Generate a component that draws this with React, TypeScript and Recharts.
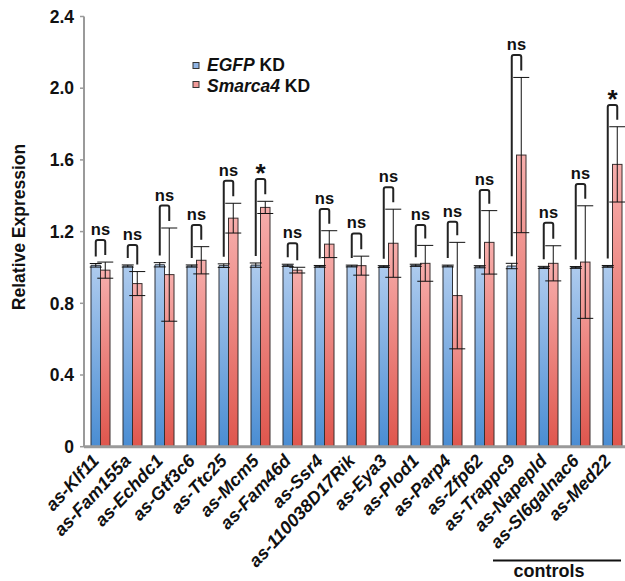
import { BarChart, Bar, XAxis, YAxis, ErrorBar, Customized } from "recharts";

const genes = [
  "as-Klf11",
  "as-Fam155a",
  "as-Echdc1",
  "as-Gtf3c6",
  "as-Ttc25",
  "as-Mcm5",
  "as-Fam46d",
  "as-Ssr4",
  "as-110038D17Rik",
  "as-Eya3",
  "as-Plod1",
  "as-Parp4",
  "as-Zfp62",
  "as-Trappc9",
  "as-Napepld",
  "as-Sl6galnac6",
  "as-Med22",
];

const egfpMean = [1.012, 1.008, 1.015, 1.008, 1.01, 1.013, 1.012, 1.006, 1.008, 1.005, 1.012, 1.008, 1.004, 1.008, 1.0, 1.0, 1.006];
const egfpErr = [0.01, 0.006, 0.012, 0.006, 0.01, 0.012, 0.006, 0.005, 0.005, 0.005, 0.006, 0.005, 0.006, 0.015, 0.006, 0.005, 0.005];
const smarcaMean = [0.985, 0.91, 0.96, 1.04, 1.275, 1.335, 0.985, 1.13, 1.01, 1.135, 1.023, 0.843, 1.14, 1.627, 1.023, 1.03, 1.575];
const smarcaErr = [0.045, 0.067, 0.26, 0.076, 0.083, 0.034, 0.016, 0.075, 0.053, 0.19, 0.1, 0.297, 0.177, 0.433, 0.098, 0.314, 0.21];

// height of the significance bracket over each pair, and its mark
const bracketTop = [1.153, 1.125, 1.345, 1.237, 1.484, 1.493, 1.135, 1.326, 1.19, 1.447, 1.237, 1.255, 1.432, 2.185, 1.25, 1.466, 1.906];
const significance = ["ns", "ns", "ns", "ns", "ns", "*", "ns", "ns", "ns", "ns", "ns", "ns", "ns", "ns", "ns", "ns", "*"];

const yTicks = [0, 0.4, 0.8, 1.2, 1.6, 2.0, 2.4];

const rows = genes.map((name, i) => ({
  name,
  egfp: egfpMean[i],
  egfpErr: egfpErr[i],
  smarca: smarcaMean[i],
  smarcaErr: smarcaErr[i],
  bracket: bracketTop[i],
  sig: significance[i],
}));

const FONT = "'Liberation Sans', Arial, Helvetica, sans-serif";
const LEG_GAP = 7;

// red bar plus the bracket spanning both bars of the group
const SmarcaBar = (props: any) => {
  const { x, y, width, height, payload } = props;
  const base = y + height;
  const ppu = height / payload.smarca;
  const lx = x - width / 2;
  const rx = x + width / 2;
  const top = base - payload.bracket * ppu;
  const leftEnd = base - (payload.egfp + payload.egfpErr) * ppu - LEG_GAP;
  const rightEnd = base - (payload.smarca + payload.smarcaErr) * ppu - LEG_GAP;
  const r = 2;
  const isStar = payload.sig === "*";
  return (
    <g>
      <rect x={x} y={y} width={width} height={height} fill="url(#redFill)" stroke="#3a2f2f" strokeWidth={1} />
      <path
        d={`M${lx},${leftEnd} L${lx},${top + r} Q${lx},${top} ${lx + r},${top} L${rx - r},${top} Q${rx},${top} ${rx},${top + r} L${rx},${rightEnd}`}
        fill="none"
        stroke="#222"
        strokeWidth={2}
      />
      <text
        x={x}
        y={isStar ? top + 3 : top - 5}
        textAnchor="middle"
        fontFamily={FONT}
        fontWeight="bold"
        fontSize={isStar ? 26 : 16.5}
        fill="#111"
      >
        {payload.sig}
      </text>
    </g>
  );
};

const GeneTick = (props: any) => {
  const { x, y, payload } = props;
  const tx = x;
  const ty = y + 7;
  return (
    <text
      x={tx}
      y={ty}
      transform={`rotate(-47 ${tx} ${ty})`}
      textAnchor="end"
      fontFamily={FONT}
      fontWeight="bold"
      fontStyle="italic"
      fontSize={18}
      fill="#111"
    >
      {payload.value}
    </text>
  );
};

const Annotations = () => (
  <g fontFamily={FONT} fontWeight="bold" fill="#111">
    <text x={20} y={227} transform="rotate(-90 20 227)" textAnchor="middle" dominantBaseline="middle" fontSize={17.5}>
      Relative Expression
    </text>
    <rect x={193} y={62.5} width={6} height={6} fill="#8fb4e4" stroke="#333" strokeWidth={1} />
    <text x={207} y={71} fontSize={17.5}>
      <tspan fontStyle="italic">EGFP</tspan> KD
    </text>
    <rect x={193} y={81.5} width={6} height={6} fill="#f09a98" stroke="#333" strokeWidth={1} />
    <text x={207} y={92} fontSize={17.5}>
      <tspan fontStyle="italic">Smarca4</tspan> KD
    </text>
    <line x1={493} y1={560.5} x2={621} y2={560.5} stroke="#111" strokeWidth={2} />
    <text x={549} y={577} textAnchor="middle" fontSize={18}>
      controls
    </text>
  </g>
);

export default function App() {
  return (
    <div style={{ position: "absolute", left: 0, top: 0, background: "#fff" }}>
      <BarChart
        width={630}
        height={581}
        data={rows}
        margin={{ top: 16.5, right: 2, left: 0, bottom: 0 }}
        barGap={0}
        barSize={9.5}
      >
        <defs>
          <linearGradient id="blueFill" x1="0" y1="0" x2="0" y2="1">
            <stop offset="0%" stopColor="#aecbee" />
            <stop offset="100%" stopColor="#4a8dd3" />
          </linearGradient>
          <linearGradient id="redFill" x1="0" y1="0" x2="0" y2="1">
            <stop offset="0%" stopColor="#f7aeac" />
            <stop offset="100%" stopColor="#df564d" />
          </linearGradient>
        </defs>
        <XAxis
          dataKey="name"
          height={134.3}
          interval={0}
          tickLine={false}
          axisLine={{ stroke: "#9a9a9a", strokeWidth: 3 }}
          tick={<GeneTick />}
        />
        <YAxis
          width={84}
          domain={[0, 2.4]}
          ticks={yTicks}
          tickFormatter={(v: number) => (v === 0 ? "0" : v.toFixed(1))}
          axisLine={{ stroke: "#9a9a9a", strokeWidth: 2 }}
          tickLine={{ stroke: "#9a9a9a", strokeWidth: 1.5 }}
          tickSize={4}
          tickMargin={6}
          tick={{ fontFamily: FONT, fontWeight: "bold", fontSize: 17.5, fill: "#111" }}
        />
        <Bar dataKey="egfp" fill="url(#blueFill)" stroke="#2f333a" strokeWidth={1} isAnimationActive={false}>
          <ErrorBar dataKey="egfpErr" width={6} stroke="#111" strokeWidth={1} isAnimationActive={false} />
        </Bar>
        <Bar dataKey="smarca" shape={<SmarcaBar />} isAnimationActive={false}>
          <ErrorBar dataKey="smarcaErr" width={8} stroke="#111" strokeWidth={1} isAnimationActive={false} />
        </Bar>
        <Customized component={Annotations} />
      </BarChart>
    </div>
  );
}
